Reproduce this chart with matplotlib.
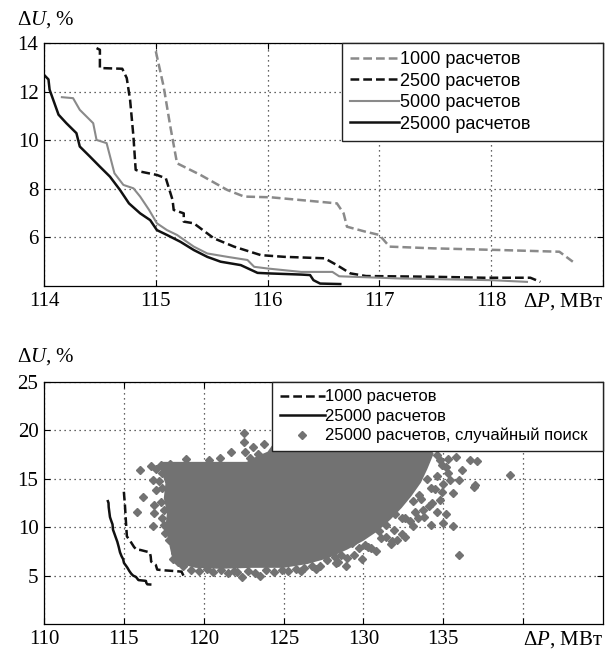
import matplotlib.pyplot as plt
import numpy as np

plt.rcParams['font.family'] = 'Liberation Serif'
plt.rcParams['mathtext.fontset'] = 'custom'
plt.rcParams['mathtext.rm'] = 'Liberation Serif'
plt.rcParams['mathtext.it'] = 'Liberation Serif:italic'

# --- Pareto fronts (top panel) ---
x1000 = [115.0, 115.07, 115.13, 115.19, 115.4, 115.64, 115.79, 116.03, 116.29, 116.62,
         116.68, 116.71, 116.88, 117.0, 117.09, 117.48, 118.08, 118.61, 118.73]
y1000 = [13.66, 12.21, 10.56, 9.05, 8.57, 7.95, 7.68, 7.65, 7.54, 7.4,
         6.99, 6.44, 6.23, 6.1, 5.62, 5.55, 5.48, 5.41, 5.0]

x2500 = [114.47, 114.5, 114.5, 114.7, 114.74, 114.77, 114.8, 114.82, 114.86, 115.01,
         115.09, 115.15, 115.16, 115.25, 115.25, 115.34, 115.52, 115.7, 115.94, 116.15,
         116.51, 116.62, 116.74, 116.88, 117.48, 117.93, 118.35, 118.44]
y2500 = [13.79, 13.72, 12.97, 12.94, 12.56, 11.66, 10.15, 8.78, 8.71, 8.57,
         8.43, 7.54, 7.13, 6.99, 6.65, 6.58, 5.96, 5.62, 5.27, 5.2,
         5.14, 4.86, 4.52, 4.41, 4.38, 4.34, 4.34, 4.17]

x5000 = [114.16, 114.26, 114.32, 114.44, 114.47, 114.56, 114.63, 114.71, 114.8, 114.86,
         114.94, 115.01, 115.1, 115.19, 115.34, 115.46, 115.64, 115.82, 115.88, 116.0,
         116.3, 116.58, 116.64, 117.18, 118.0, 118.32]
y5000 = [11.77, 11.73, 11.25, 10.7, 10.01, 9.88, 8.64, 8.16, 8.02, 7.68,
         7.13, 6.58, 6.3, 6.1, 5.62, 5.34, 5.2, 5.07, 4.79, 4.72,
         4.58, 4.58, 4.4, 4.31, 4.24, 4.17]

x25000 = [114.0, 114.04, 114.05, 114.13, 114.2, 114.29, 114.32, 114.41, 114.5, 114.59,
          114.68, 114.76, 114.86, 114.95, 115.01, 115.1, 115.22, 115.34, 115.46, 115.58,
          115.76, 115.91, 116.0, 116.3, 116.38, 116.41, 116.47, 116.65]
y25000 = [12.69, 12.5, 12.08, 11.05, 10.7, 10.29, 9.74, 9.33, 8.91, 8.5,
          7.95, 7.4, 6.99, 6.71, 6.3, 6.1, 5.82, 5.48, 5.2, 5.0,
          4.86, 4.54, 4.52, 4.47, 4.45, 4.24, 4.1, 4.08]

# --- random search cloud (bottom panel): outline of the dense part + sparse points ---
cloud_x = [117.4, 122.7, 123.3, 124.0, 124.3, 134.0, 134.4, 134.0, 133.6, 133.0,
           132.4, 131.7, 130.9, 130.0, 129.0, 127.8, 126.5, 125.0, 123.0, 121.0,
           119.5, 118.5, 118.0, 117.8, 117.6, 117.7, 117.5, 117.6, 117.3]
cloud_y = [16.75, 16.75, 17.3, 17.8, 18.5, 18.5, 17.6, 16.0, 14.6, 13.2,
           12.0, 10.8, 9.6, 8.6, 7.7, 6.8, 6.2, 5.8, 5.8, 5.7,
           5.8, 6.2, 7.0, 8.5, 10.0, 11.5, 13.0, 14.5, 16.0]

pts_x = [117.3, 117.6, 117.9, 117.4, 117.2, 117.4, 117.3, 117.5, 117.4, 117.5,
         117.6, 117.8, 118.2, 118.4, 118.7, 118.1,
         119.2, 119.7, 120.2, 120.6, 121.1, 121.5, 121.9, 122.4, 122.1, 122.8,
         123.2, 123.5, 123.9, 124.4, 124.9, 125.3, 125.8, 126.3, 126.8, 127.3,
         128.2, 128.6, 129.0, 128.4, 127.7, 129.3, 129.7, 130.1, 130.5,
         131.0, 131.4, 131.8, 132.1, 132.6, 131.4,
         132.0, 132.4, 132.9, 133.4, 133.7, 134.2, 135.0, 135.6, 134.6, 135.2,
         133.1, 133.5, 134.3, 134.8, 135.6, 134.5,
         134.0, 135.0, 135.3, 136.0, 136.2, 137.0, 136.9,
         134.6, 134.9, 135.8, 136.7, 137.1, 135.3,
         134.8, 135.2, 134.6, 135.4, 134.2, 134.9, 133.6, 134.1, 133.2, 133.8,
         132.6, 133.1, 131.9, 132.4, 131.1, 131.7, 130.3, 130.8, 129.4, 129.9,
         128.3, 128.9, 127.0, 126.1,
         136.0, 139.2,
         122.5, 122.5, 121.7, 122.6, 123.1, 123.8, 123.4, 118.9, 120.3, 121.0, 122.9,
         116.0, 116.7, 116.2, 115.8, 116.9, 116.8, 116.8, 117.0, 117.0, 116.9]
pts_y = [16.4, 16.0, 16.5, 15.6, 14.8, 14.0, 12.6, 11.8, 11.0, 10.2,
         9.4, 8.7, 7.3, 6.4, 6.0, 6.7,
         5.6, 5.5, 5.7, 5.4, 5.6, 5.3, 5.5, 4.9, 5.4, 5.5,
         5.3, 5.0, 5.6, 5.4, 5.6, 5.5, 5.7, 5.8, 6.0, 6.0,
         6.9, 7.1, 6.8, 6.4, 6.6, 8.4, 7.8, 8.2, 7.9,
         9.6, 9.0, 8.6, 8.7, 9.0, 10.2,
         11.4, 11.0, 10.6, 10.9, 11.8, 10.2, 10.4, 10.1, 11.6, 11.4,
         12.7, 13.3, 12.5, 12.8, 13.5, 13.9,
         15.0, 14.5, 15.6, 14.9, 15.9, 14.4, 14.2,
         17.5, 16.4, 17.3, 16.9, 16.8, 17.0,
         16.9, 16.2, 15.3, 14.9, 14.1, 13.6, 12.9, 12.2, 11.6, 11.1,
         10.9, 10.1, 9.7, 9.3, 8.9, 8.3, 8.0, 7.5, 7.1, 6.7,
         6.3, 6.0, 5.7, 5.5,
         7.1, 15.4,
         19.7, 18.8, 17.8, 17.8, 18.3, 18.6, 17.6, 17.0, 16.9, 17.1, 17.1,
         15.9, 16.3, 13.1, 11.6, 11.5, 10.1, 14.9, 13.8, 16.0, 12.3]

top_xticks = [114, 115, 116, 117, 118, 119]
top_yticks = [6, 8, 10, 12, 14]
bot_xticks = [110, 115, 120, 125, 130, 135, 140]
bot_yticks = [5, 10, 15, 20, 25]

GRAY = '#8a8a8a'
CLOUD = '#727272'

fig = plt.figure(figsize=(6.12, 6.52), dpi=100)
ax1 = fig.add_axes([44/612, 1-286/652, 559/612, 243/652])
ax2 = fig.add_axes([44/612, 1-624/652, 559/612, 242/652])


def style(ax, xt, yt):
    ax.set_xticks(xt)
    ax.set_xticklabels([str(t) for t in xt[:-1]] + [''])
    ax.set_yticks(yt)
    ax.tick_params(direction='in', length=4, width=0.8, labelsize=15,
                   top=True, right=True, pad=4)
    ax.grid(True, linestyle=(0, (1, 3)), color='#333333', linewidth=0.9)
    for s in ax.spines.values():
        s.set_linewidth(0.9)
    ax.annotate(r'$\Delta P$, МВт', xy=(1, 0), xycoords='axes fraction',
                xytext=(0, -4), textcoords='offset points', ha='right', va='top',
                fontsize=15)


def legend(ax, x0, size):
    leg = ax.legend(loc='upper left', bbox_to_anchor=(x0, 0, 1 - x0, 1), mode='expand',
                    borderaxespad=0, fancybox=False,
                    prop={'family': 'Liberation Sans', 'size': size},
                    handlelength=2.7, handletextpad=0.05, labelspacing=0.25,
                    borderpad=0.45, framealpha=1)
    leg.get_frame().set_edgecolor('#222222')
    leg.get_frame().set_linewidth(1.0)
    leg.set_zorder(5)


# top panel
ax1.plot(x1000, y1000, color=GRAY, lw=1.8, dashes=(3.5, 1.6), label='1000 расчетов')
ax1.plot(x2500, y2500, color='#111111', lw=1.8, dashes=(3.5, 1.6), label='2500 расчетов')
ax1.plot(x5000, y5000, color=GRAY, lw=1.5, label='5000 расчетов')
ax1.plot(x25000, y25000, color='#111111', lw=1.8, label='25000 расчетов')
ax1.set_xlim(114, 119)
ax1.set_ylim(4, 14)
style(ax1, top_xticks, top_yticks)
legend(ax1, (342 - 44) / 559, 13)

# bottom panel
ax2.fill(cloud_x, cloud_y, color=CLOUD, lw=0, zorder=2)
ax2.plot(x1000, y1000, color='#111111', lw=1.8, dashes=(3.5, 1.6), label='1000 расчетов', zorder=3)
ax2.plot(x25000, y25000, color='#111111', lw=1.8, label='25000 расчетов', zorder=3)
ax2.plot(pts_x, pts_y, ls='none', marker='D', ms=3.8, color=CLOUD, mec=CLOUD,
         label='25000 расчетов, случайный поиск', zorder=2)
ax2.set_xlim(110, 145)
ax2.set_ylim(0, 25)
style(ax2, bot_xticks, bot_yticks)
legend(ax2, (272 - 44) / 559, 12)

fig.text(17/612, 1-20/652, r'$\Delta U$, %', fontsize=15, va='center', ha='left')
fig.text(17/612, 1-357/652, r'$\Delta U$, %', fontsize=15, va='center', ha='left')

fig.savefig('out.png', dpi=100)
